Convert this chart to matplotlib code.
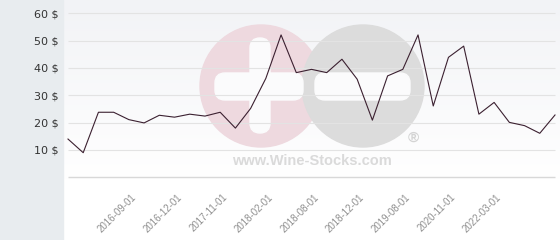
import numpy as np
import matplotlib
matplotlib.use("Agg")
import matplotlib.pyplot as plt
from matplotlib.patches import Rectangle, Circle, FancyBboxPatch
from matplotlib.transforms import ScaledTranslation

# prices, one per category
prices = [14.0, 9.0, 23.8, 23.8, 21.1, 19.9, 22.7, 22.0, 23.1, 22.4, 23.8,
          18.0, 25.2, 36.2, 52.1, 38.3, 39.5, 38.3, 43.2, 35.9, 20.9, 37.1,
          39.5, 52.1, 26.1, 43.9, 48.0, 23.1, 27.4, 20.1, 18.9, 16.1, 22.8]
tick_idx = [4, 7, 10, 13, 16, 19, 22, 25, 28]
tick_labels = ["2016-09-01", "2016-12-01", "2017-11-01", "2018-02-01",
               "2018-08-01", "2018-12-01", "2019-08-01", "2020-11-01",
               "2022-03-01"]
y_ticks = [10, 20, 30, 40, 50, 60]

W, H = 560, 240
fig = plt.figure(figsize=(W / 100, H / 100), dpi=100, facecolor="white")

# background layer in pixel coords: side panel, gradient, watermark
bg = fig.add_axes([0, 0, 1, 1], zorder=0)
bg.set_xlim(0, W)
bg.set_ylim(H, 0)
bg.axis("off")
grad = np.linspace(0, 1, 100).reshape(-1, 1)
cmap = matplotlib.colors.LinearSegmentedColormap.from_list("g", ["#f2f3f6", "#ffffff"])
bg.imshow(grad, extent=(63, W, 180, 0), cmap=cmap, aspect="auto", zorder=0)
bg.add_patch(Rectangle((0, 0), 63, H, color="#e8ecef", zorder=1))

bg.add_patch(Circle((261, 86), 61, color="#eed9df", zorder=2))
bg.add_patch(Circle((363, 86), 61, color="#dcdcdc", zorder=3))
for x0, y0, w, h in [(250, 38, 20, 95), (215, 73, 88, 27), (315, 73, 95, 27)]:
    bg.add_patch(FancyBboxPatch((x0, y0), w, h, boxstyle="round,pad=0,rounding_size=10",
                                color="#fbfbfc", zorder=4))
bg.text(312, 161, "www.Wine-Stocks.com", ha="center", va="center", fontsize=10.5,
        fontweight="bold", family="Liberation Sans", color="#dadada", zorder=4)
bg.text(413, 138, "\u00ae", ha="center", va="center", fontsize=11,
        fontweight="bold", family="Liberation Sans", color="#d4d4d4", zorder=4)

# main plot axes
px = 15.22
left, right = 63, W
bottom_px = 177.3
ax = fig.add_axes([left / W, (H - bottom_px) / H, (right - left) / W, bottom_px / H], zorder=1)
ax.patch.set_alpha(0)
ax.set_xlim(-5 / px, 32 + 5 / px)
ax.set_ylim(0, bottom_px / 2.733)
for s in ax.spines.values():
    s.set_visible(False)

x = np.arange(len(prices))
ax.hlines(y_ticks, 0, len(prices) - 1, color="#e3e3e3", lw=0.8, zorder=1)
ax.hlines(0, 0, len(prices) - 1, color="#d8d8d8", lw=1.0, zorder=1, clip_on=False)
ax.plot(x, prices, color="#3b2030", lw=0.8, zorder=3)

ax.set_yticks(y_ticks)
ax.set_yticklabels([f"{v} $" for v in y_ticks], fontsize=8, color="#333333")
ax.tick_params(axis="y", length=0, pad=3)

ax.set_xticks(tick_idx)
ax.set_xticklabels(tick_labels, rotation=45, ha="right", rotation_mode="anchor",
                   fontsize=7, family="Liberation Sans", color="#8f8f8f")
ax.tick_params(axis="x", length=0, pad=10.5)
off = ScaledTranslation(2 / 100, 0, fig.dpi_scale_trans)
for lab in ax.get_xticklabels():
    lab.set_transform(lab.get_transform() + off)

fig.savefig("out.png", dpi=100, facecolor="white")
